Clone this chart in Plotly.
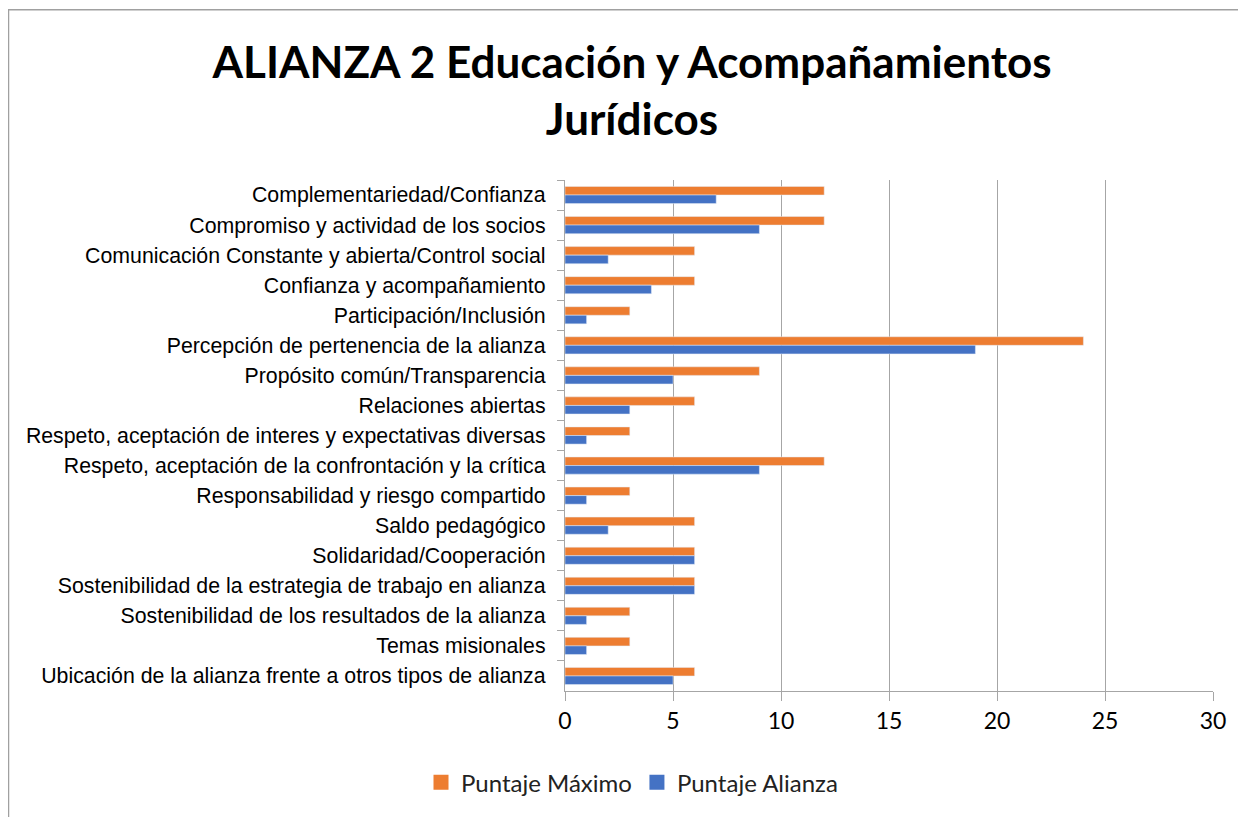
import plotly.graph_objects as go

categories = [
    "Complementariedad/Confianza",
    "Compromiso y actividad de los socios",
    "Comunicación Constante y abierta/Control social",
    "Confianza y acompañamiento",
    "Participación/Inclusión",
    "Percepción de pertenencia de la alianza",
    "Propósito común/Transparencia",
    "Relaciones abiertas",
    "Respeto, aceptación de interes y expectativas diversas",
    "Respeto, aceptación de la confrontación y la crítica",
    "Responsabilidad y riesgo compartido",
    "Saldo pedagógico",
    "Solidaridad/Cooperación",
    "Sostenibilidad de la estrategia de trabajo en alianza",
    "Sostenibilidad de los resultados de la alianza",
    "Temas misionales",
    "Ubicación de la alianza frente a otros tipos de alianza",
]
puntaje_maximo = [12, 12, 6, 6, 3, 24, 9, 6, 3, 12, 3, 6, 6, 6, 3, 3, 6]
puntaje_alianza = [7, 9, 2, 4, 1, 19, 5, 3, 1, 9, 1, 2, 6, 6, 1, 1, 5]
x_ticks = [0, 5, 10, 15, 20, 25, 30]
series_names = ["Puntaje Máximo", "Puntaje Alianza"]
series_colors = ["#ED7D31", "#4472C4"]

OFF = 8  # page offset of the figure
W, H = 1238, 809
L, R, T, B = 565 - OFF, 1213 - OFF, 180 - OFF, 693 - OFF
pw, ph = R - L, B - T

fig = go.Figure()
for vals, name, col in zip([puntaje_maximo, puntaje_alianza], series_names, series_colors):
    fig.add_trace(go.Bar(y=categories, x=vals, orientation="h", name=name,
                         marker_color=col, showlegend=False))
# legend entries with square swatches
for name, col in zip(series_names, series_colors):
    fig.add_trace(go.Scatter(x=[None], y=[None], mode="markers", name=name,
                             marker=dict(symbol="square", size=15, color=col)))

fig.update_layout(
    width=W, height=H,
    margin=dict(l=L, r=W - R, t=T, b=H - B, pad=0),
    paper_bgcolor="white", plot_bgcolor="white",
    barmode="group", bargap=0.43, bargroupgap=0,
    title=dict(text="<b>ALIANZA 2 Educación y Acompañamientos<br>Jurídicos</b>",
               x=(632 - OFF) / W, xanchor="center", y=1 - (78 - OFF) / H, yanchor="middle",
               font=dict(family="Lato", size=44, color="black")),
    legend=dict(orientation="h", x=(632 - 565) / pw, xanchor="center",
                y=(693 - 785) / ph, yanchor="middle",
                font=dict(family="Lato", size=24, color="#222"),
                itemwidth=30, traceorder="normal"),
    showlegend=True,
)
fig.update_xaxes(range=[0, 30], tickvals=x_ticks, showgrid=True,
                 gridcolor="#A6A6A6", gridwidth=1.3, showline=True,
                 linecolor="#A6A6A6", linewidth=1.3, ticks="outside",
                 ticklen=9, tickcolor="#A6A6A6", tickwidth=1.3,
                 tickfont=dict(family="Lato", size=23, color="black"),
                 zeroline=False, fixedrange=True)
fig.update_yaxes(autorange="reversed", showline=True, linecolor="#A6A6A6",
                 linewidth=1.3, ticks="outside", ticklen=7, tickcolor="#A6A6A6",
                 tickwidth=1.3, tickson="boundaries", showgrid=False,
                 tickfont=dict(family="Liberation Sans", size=21.3, color="black"),
                 ticklabelstandoff=14)

# outer chart border
fig.add_shape(type="rect", xref="paper", yref="paper",
              x0=(0.5 - L) / pw, x1=(W + 20 - L) / pw,
              y0=(B - (H + 20)) / ph, y1=(B - 1) / ph,
              line=dict(color="#A0A0A0", width=1.5), fillcolor="rgba(0,0,0,0)",
              layer="below")

fig.write_html("out.html")
